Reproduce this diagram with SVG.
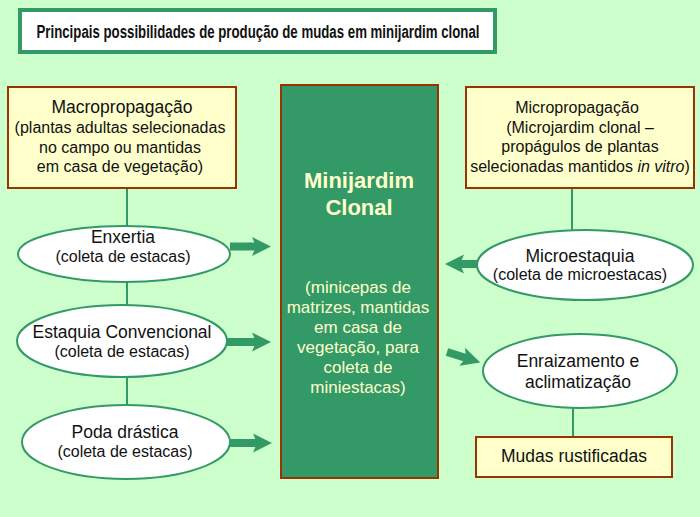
<svg xmlns="http://www.w3.org/2000/svg" width="700" height="517" viewBox="0 0 700 517">
<style>
text{font-family:"Liberation Sans",Arial,sans-serif;font-size:16px;fill:#111;text-anchor:middle}
.title{font-weight:bold;font-size:18px}
.main{font-size:17.5px}
.box{fill:#FFFFCC;stroke:#993300;stroke-width:2}
.ell{fill:#FFFFFF;stroke:#339966;stroke-width:2}
.ln{stroke:#339966;stroke-width:2;fill:none}
.arr{stroke:#339966;stroke-width:8;fill:none;marker-end:url(#ah)}
.big{font-weight:bold;font-size:22px;fill:#FFFFCC}
.light{fill:#FFFFCC;font-size:17px}
</style>
<defs>
<marker id="ah" markerUnits="userSpaceOnUse" markerWidth="20" markerHeight="20" viewBox="0 0 20 20" refX="4" refY="9.5" orient="auto">
<path d="M0,0 L19,9.5 L0,19 L4,9.5 Z" fill="#339966"/>
</marker>
</defs>
<rect x="0" y="0" width="700" height="517" fill="#CCFFCC"/>
<g id="title">
<rect x="20" y="10" width="475" height="42" fill="#FFFFFF" stroke="#339966" stroke-width="4"/>
<text class="title" x="258" y="38" textLength="443" lengthAdjust="spacingAndGlyphs">Principais possibilidades de produção de mudas em minijardim clonal</text>
</g>
<g id="connectors">
<line class="ln" x1="127" y1="188" x2="127" y2="226"/>
<line class="ln" x1="127" y1="282" x2="127" y2="305"/>
<line class="ln" x1="127" y1="378" x2="127" y2="405"/>
<line class="ln" x1="572" y1="188" x2="572" y2="230"/>
<line class="ln" x1="573" y1="408" x2="573" y2="437"/>
<line class="arr" x1="230" y1="246.5" x2="256" y2="246.5"/>
<line class="arr" x1="227" y1="342" x2="256" y2="342"/>
<line class="arr" x1="230" y1="443" x2="257" y2="443"/>
<line class="arr" x1="478" y1="264" x2="460" y2="264"/>
<line class="arr" x1="447" y1="352" x2="466" y2="358"/>
</g>
<g id="macro">
<rect class="box" x="8" y="87" width="228" height="101"/>
<text class="main" x="122" y="113">Macropropagação</text>
<text x="120" y="133">(plantas adultas selecionadas</text>
<text x="120" y="153">no campo ou mantidas</text>
<text x="120" y="172">em casa de vegetação)</text>
</g>
<g id="minijardim">
<rect x="281" y="85" width="157" height="393" fill="#339966" stroke="#993300" stroke-width="2"/>
<text class="big" x="359" y="188">Minijardim</text>
<text class="big" x="359" y="215">Clonal</text>
<text class="light" x="358" y="293">(minicepas de</text>
<text class="light" x="358" y="313">matrizes, mantidas</text>
<text class="light" x="358" y="333">em casa de</text>
<text class="light" x="358" y="353">vegetação, para</text>
<text class="light" x="358" y="373">coleta de</text>
<text class="light" x="358" y="393">miniestacas)</text>
</g>
<g id="micro">
<rect class="box" x="466" y="87" width="228" height="101"/>
<text x="577" y="113" font-size="16.5">Micropropagação</text>
<text x="580" y="133">(Microjardim clonal –</text>
<text x="580" y="152">propágulos de plantas</text>
<text x="580" y="172">selecionadas mantidos <tspan font-style="italic">in vitro</tspan>)</text>
</g>
<g id="enxertia">
<ellipse class="ell" cx="124" cy="254" rx="106" ry="28"/>
<text class="main" x="123" y="243">Enxertia</text>
<text x="123" y="262">(coleta de estacas)</text>
</g>
<g id="estaquia">
<ellipse class="ell" cx="122" cy="341" rx="105" ry="36"/>
<text class="main" x="122" y="338">Estaquia Convencional</text>
<text x="122" y="357">(coleta de estacas)</text>
</g>
<g id="poda">
<ellipse class="ell" cx="126" cy="442" rx="104" ry="37"/>
<text class="main" x="125" y="438">Poda drástica</text>
<text x="125" y="457">(coleta de estacas)</text>
</g>
<g id="microestaquia">
<ellipse class="ell" cx="585" cy="265" rx="108" ry="35"/>
<text class="main" x="580" y="262">Microestaquia</text>
<text x="580" y="280">(coleta de microestacas)</text>
</g>
<g id="enraizamento">
<ellipse class="ell" cx="580" cy="371" rx="97" ry="37"/>
<text class="main" x="578" y="367">Enraizamento e</text>
<text class="main" x="578" y="388">aclimatização</text>
</g>
<g id="mudas">
<rect class="box" x="476" y="437" width="196" height="40"/>
<text class="main" x="574" y="462">Mudas rustificadas</text>
</g>
</svg>
